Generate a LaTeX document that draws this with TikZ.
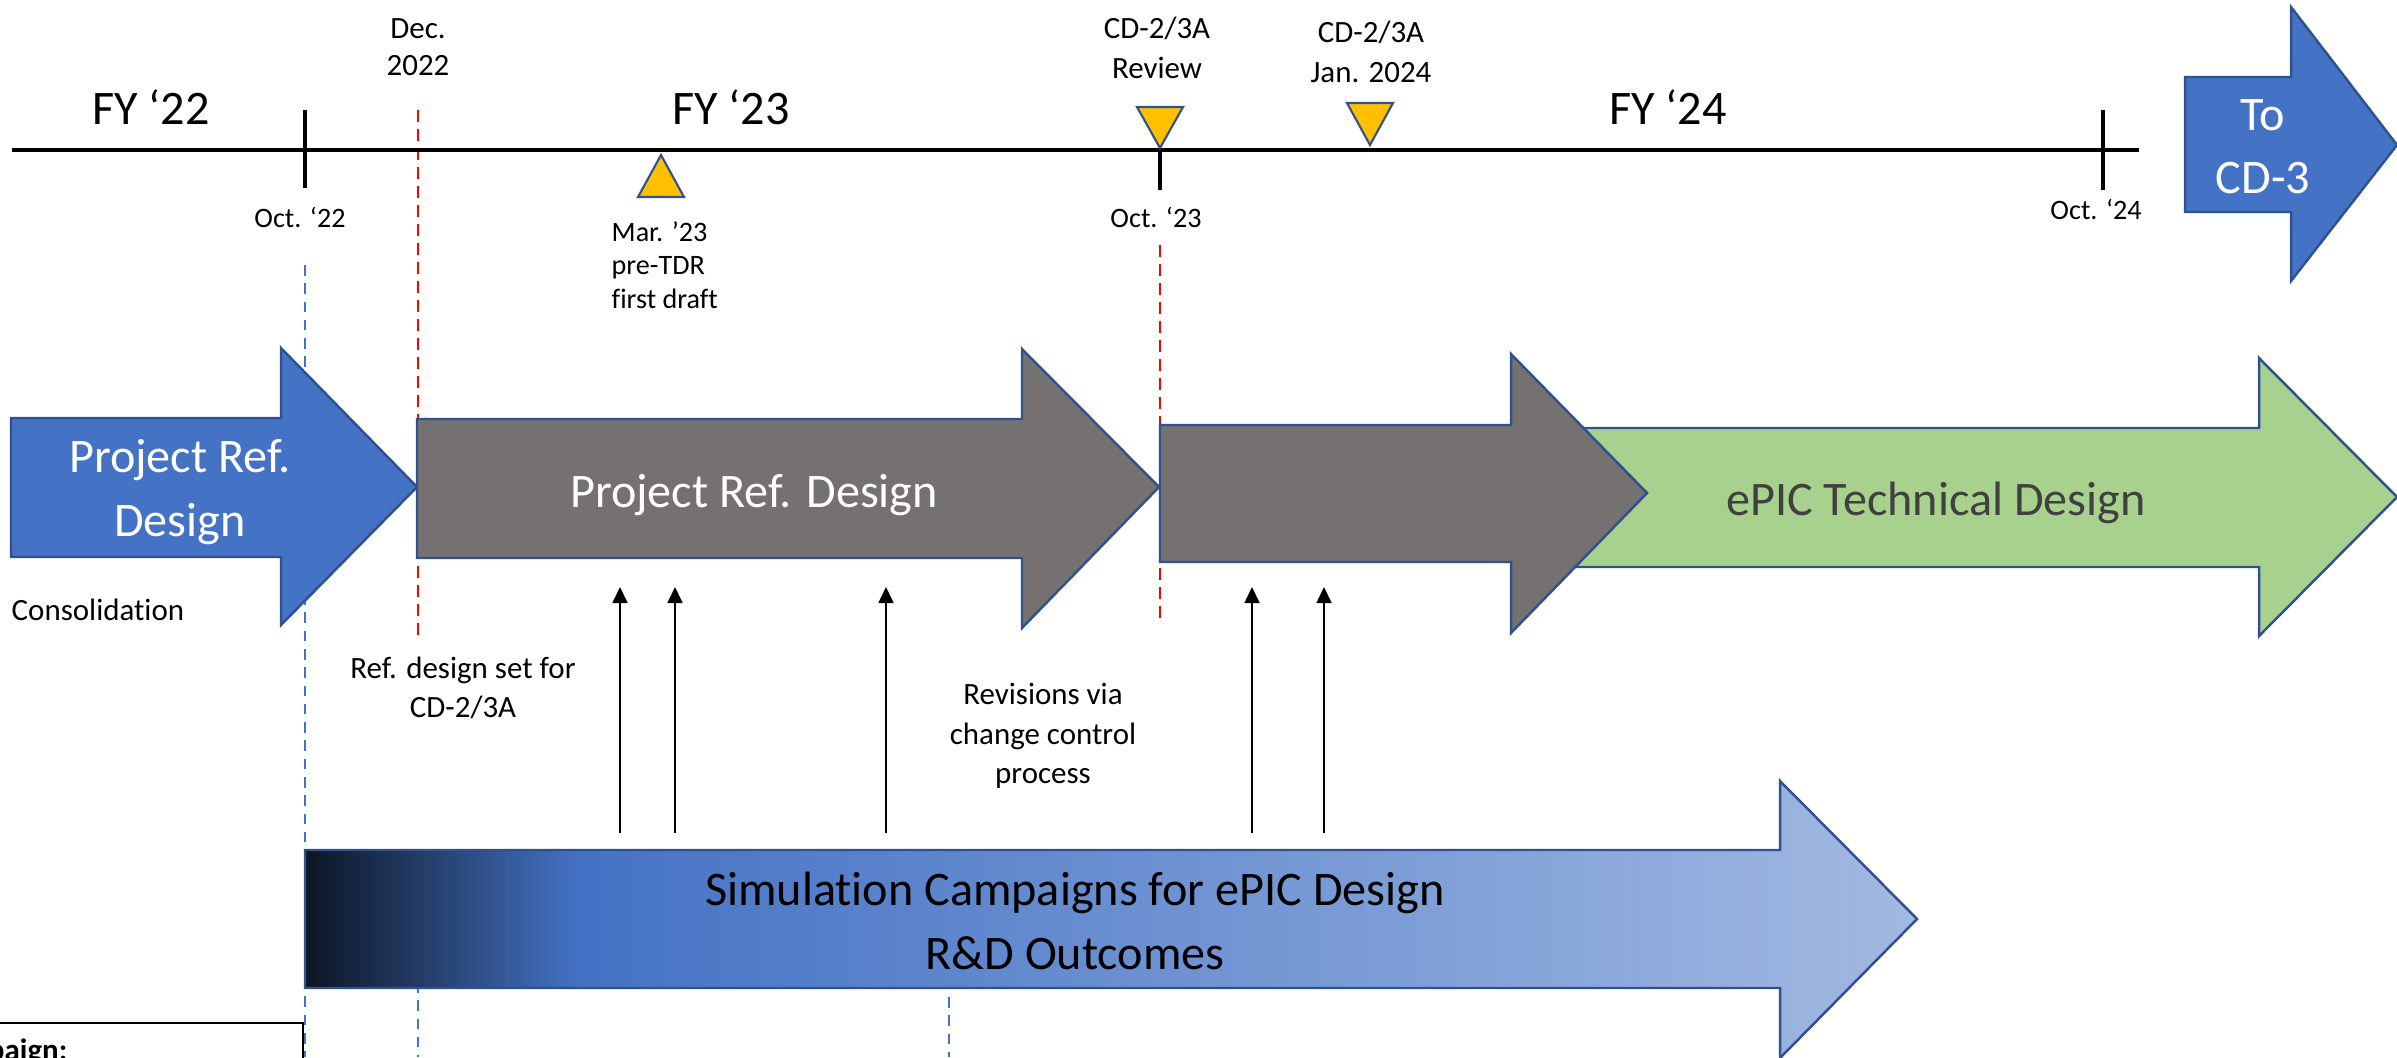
\documentclass[tikz,border=0pt]{standalone}
\usepackage{fontspec}
\setmainfont[Ligatures={TeX,NoCommon}]{Carlito}
\usetikzlibrary{arrows.meta}

\definecolor{blueA}{HTML}{4472C4}
\definecolor{edgeA}{HTML}{2F528F}
\definecolor{grayA}{HTML}{767171}
\definecolor{greenA}{HTML}{A9D18E}
\definecolor{goldA}{HTML}{FFC000}
\definecolor{textA}{HTML}{404040}
\definecolor{simdark}{HTML}{0D1524}
\definecolor{simlight}{HTML}{A2B9E2}
\pgfdeclarehorizontalshading{simshade}{100bp}{color(0bp)=(simdark); color(25bp)=(simdark);
  color(33.5bp)=(blueA); color(75bp)=(simlight); color(100bp)=(simlight)}

\begin{document}
\begin{tikzpicture}[x=0.01cm, y=-0.01cm, inner sep=0pt,
                    >={Triangle[length=0.16cm,width=0.15cm]}]
  \tikzstyle{big}=[font=\fontsize{13.7}{18}\selectfont, align=center]
  \tikzstyle{mid}=[font=\fontsize{8.8}{11.3}\selectfont, align=center]
  \tikzstyle{small}=[font=\fontsize{8}{9.5}\selectfont]
  \tikzstyle{block}=[draw=edgeA, line width=0.7pt, line join=miter]
  \tikzstyle{milestone}=[fill=goldA, draw=edgeA, line width=0.6pt, line join=miter]
  \tikzstyle{redcut}=[red, line width=0.8pt, dash pattern=on 3.4pt off 2pt]
  \tikzstyle{bluecut}=[blueA, line width=0.8pt, dash pattern=on 3pt off 2.2pt]

  \clip (0,0) rectangle (2397,1057);
  \useasboundingbox (0,0) rectangle (2397,1057);

  % guide lines
  \draw[redcut]  (418,110) -- (418,638);
  \draw[redcut]  (1160,245) -- (1160,623);
  \draw[bluecut] (305,265) -- (305,1057);
  \draw[bluecut] (418,982) -- (418,1057);
  \draw[bluecut] (949,997) -- (949,1057);

  % time axis
  \draw[line width=1.15pt] (12,150) -- (2139,150);
  \draw[line width=1.15pt] (305,110) -- (305,188);
  \draw[line width=1.15pt] (1160,150) -- (1160,190);
  \draw[line width=1.15pt] (2103,110) -- (2103,190);

  \draw[milestone] (661,155) -- (684,197) -- (638,197) -- cycle;
  \draw[milestone] (1137,107) -- (1183,107) -- (1160,148) -- cycle;
  \draw[milestone] (1347,103) -- (1393,103) -- (1370,145) -- cycle;

  \node[big, anchor=base] (fy22) at (151,124)  {FY ‘22};
  \node[big, anchor=base] (fy23) at (731,124)  {FY ‘23};
  \node[big, anchor=base] (fy24) at (1668,124) {FY ‘24};

  \node[small, anchor=base] (oct22) at (300,227)  {Oct. ‘22};
  \node[small, anchor=base] (oct23) at (1156,227) {Oct. ‘23};
  \node[small, anchor=base] (oct24) at (2096,219) {Oct. ‘24};

  \node[mid, font=\fontsize{8.8}{10.6}\selectfont] (dec) at (418,47) {Dec.\\2022};
  \node[mid] (review) at (1157,48)  {CD-2/3A\\Review};
  \node[mid] (jan)    at (1371,52)  {CD-2/3A\\Jan. 2024};
  \node[small, align=left, anchor=north west] (tdr) at (611,221) {Mar. ’23\\pre-TDR\\first draft};

  % block arrows
  \draw[block, fill=blueA] (2185,77) -- (2291,77) -- (2291,7) -- (2397,145)
    -- (2291,281) -- (2291,212) -- (2185,212) -- cycle;
  \node[big, white] (cd3) at (2263,147) {To\\CD-3};

  \draw[block, fill=blueA] (11,418) -- (281,418) -- (281,348) -- (417,487)
    -- (281,625) -- (281,557) -- (11,557) -- cycle;
  \node[big, white] (prd0) at (180,492) {Project Ref.\\Design};

  \draw[block, fill=grayA] (417,419) -- (1022,419) -- (1022,349) -- (1159,487)
    -- (1022,628) -- (1022,558) -- (417,558) -- cycle;
  \node[big, white, anchor=base] (prd1) at (754,507) {Project Ref. Design};

  \draw[block, fill=greenA] (1530,428) -- (2259,428) -- (2259,358) -- (2397,497)
    -- (2259,636) -- (2259,567) -- (1530,567) -- cycle;
  \draw[block, fill=grayA] (1160,425) -- (1511,425) -- (1511,354) -- (1647,493)
    -- (1511,633) -- (1511,562) -- (1160,562) -- cycle;
  \node[big, textA, anchor=base] (tdes) at (1936,515) {ePIC Technical Design};

  \draw[block, shading=simshade] (305,850) -- (1780,850) -- (1780,781) -- (1917,919)
    -- (1780,1058) -- (1780,988) -- (305,988) -- cycle;
  \node[big] (sim) at (1075,921) {Simulation Campaigns for ePIC Design\\R\&D Outcomes};

  % notes
  \node[mid, anchor=base west] (cons) at (11,620) {Consolidation};
  \node[mid] (refset) at (463,688)  {Ref. design set for\\CD-2/3A};
  \node[mid] (revis)  at (1043,736) {Revisions via\\change control\\process};

  \draw[line width=0.6pt] (-10,1023) rectangle (303,1080);
  \node[mid, anchor=base east] (camp) at (68,1060) {\bfseries Campaign:};

  % feedback from simulation
  \coordinate (s1) at (620,833);  \coordinate (r1) at (620,587);
  \coordinate (s2) at (675,833);  \coordinate (r2) at (675,587);
  \coordinate (s3) at (886,833);  \coordinate (r3) at (886,587);
  \coordinate (s4) at (1252,833); \coordinate (r4) at (1252,587);
  \coordinate (s5) at (1324,833); \coordinate (r5) at (1324,587);
  \path[->, line width=0.5pt]
    (s1) edge (r1)
    (s2) edge (r2)
    (s3) edge (r3)
    (s4) edge (r4)
    (s5) edge (r5);

\end{tikzpicture}
\end{document}
